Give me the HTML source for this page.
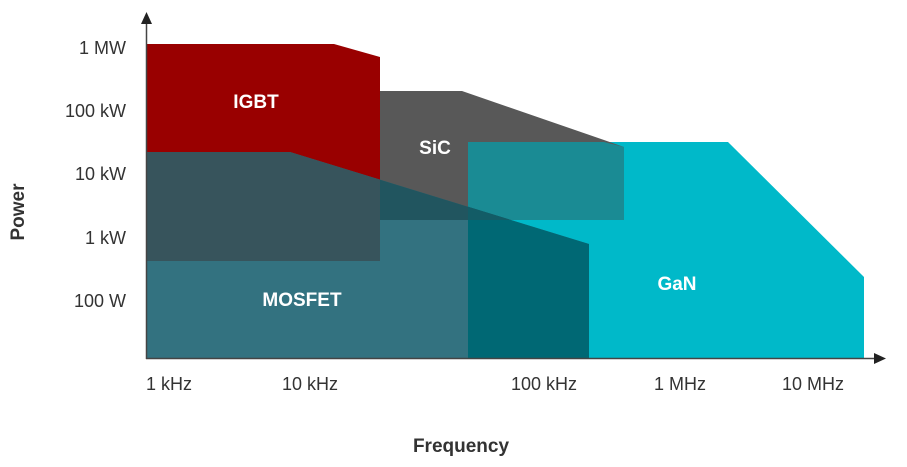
<!DOCTYPE html>
<html><head><style>
html,body{margin:0;padding:0;background:#fff;width:907px;height:467px;overflow:hidden}
svg{display:block}
text{font-family:"Liberation Sans",sans-serif}
</style></head><body>
<svg width="907" height="467" viewBox="0 0 907 467">
<defs>
<clipPath id="mos"><polygon points="147,152 290,152 589,244 589,358 147,358"/></clipPath>
</defs>
<!-- GaN -->
<polygon points="468,142 728,142 864,277 864,358 468,358" fill="#00b9c9"/>
<!-- SiC -->
<polygon points="380,91 462,91 604,140 624,147 624,220 380,220" fill="#585858"/>
<!-- SiC∩GaN -->
<polygon points="468,142 604,142 624,147 624,220 468,220" fill="#1a8b94"/>
<!-- IGBT -->
<polygon points="147,44 334,44 380,57 380,260 147,260" fill="#990000"/>
<!-- MOSFET -->
<polygon points="147,152 290,152 589,244 589,358 147,358" fill="#337280"/>
<g clip-path="url(#mos)">
<rect x="147" y="140" width="233" height="121" fill="#37545c"/>
<rect x="380" y="140" width="244" height="80" fill="#21555f"/>
<rect x="468" y="140" width="130" height="220" fill="#006874"/>
<rect x="468" y="140" width="130" height="80" fill="#135c66"/>
</g>
<!-- axes -->
<line x1="146.5" y1="22" x2="146.5" y2="359" stroke="#444" stroke-width="1.5"/>
<polygon points="146.5,12 141,24 152,24" fill="#222"/>
<line x1="146" y1="358.5" x2="876" y2="358.5" stroke="#444" stroke-width="1.5"/>
<polygon points="886,358.5 874,353 874,364" fill="#222"/>
<!-- region labels -->
<g fill="#fff" font-weight="bold" font-size="19">
<text x="256" y="108" text-anchor="middle">IGBT</text>
<text x="435" y="154" text-anchor="middle">SiC</text>
<text x="302" y="306" text-anchor="middle">MOSFET</text>
<text x="677" y="290" text-anchor="middle">GaN</text>
</g>
<!-- y labels -->
<g fill="#333" font-size="18" text-anchor="end">
<text x="126" y="54">1 MW</text>
<text x="126" y="117">100 kW</text>
<text x="126" y="180">10 kW</text>
<text x="126" y="244">1 kW</text>
<text x="126" y="307">100 W</text>
</g>
<text transform="translate(24,212) rotate(-90)" fill="#333" font-size="19" font-weight="bold" text-anchor="middle">Power</text>
<!-- x labels -->
<g fill="#333" font-size="18">
<text x="146" y="390">1 kHz</text>
<text x="282" y="390">10 kHz</text>
<text x="511" y="390">100 kHz</text>
<text x="654" y="390">1 MHz</text>
<text x="782" y="390">10 MHz</text>
</g>
<text x="461" y="452" fill="#333" font-size="19" font-weight="bold" text-anchor="middle">Frequency</text>
</svg>
</body></html>
